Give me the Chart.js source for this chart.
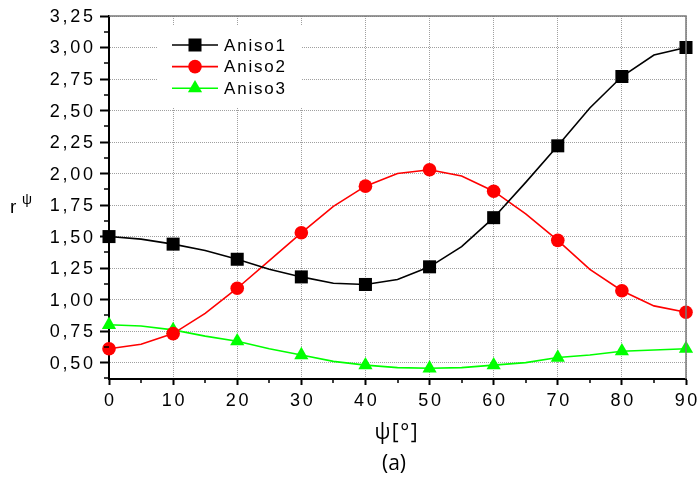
<!DOCTYPE html>
<html>
<head>
<meta charset="utf-8">
<script src="https://cdn.jsdelivr.net/npm/chart.js@4.4.1/dist/chart.umd.min.js"></script>
<style>
  html, body { margin: 0; padding: 0; background: #fff; }
  #wrap { width: 699px; height: 480px; }
</style>
</head>
<body>
<div id="wrap"><canvas id="chart" width="699" height="480"></canvas></div>
<script>
// ─── DATA ───
const psi = [0, 5, 10, 15, 20, 25, 30, 35, 40, 45, 50, 55, 60, 65, 70, 75, 80, 85, 90];
const aniso1 = [1.50, 1.48, 1.44, 1.39, 1.32, 1.24, 1.18, 1.13, 1.12, 1.16, 1.26, 1.42, 1.65, 1.93, 2.22, 2.52, 2.77, 2.94, 3.00];
const aniso2 = [0.61, 0.645, 0.73, 0.89, 1.09, 1.31, 1.53, 1.74, 1.90, 2.00, 2.03, 1.98, 1.86, 1.68, 1.47, 1.24, 1.07, 0.95, 0.90];
const aniso3 = [0.80, 0.79, 0.76, 0.71, 0.67, 0.61, 0.56, 0.51, 0.48, 0.46, 0.455, 0.46, 0.48, 0.50, 0.54, 0.56, 0.59, 0.60, 0.61];
const seriesNames = ['Aniso1', 'Aniso2', 'Aniso3'];
const xTicks = [0, 10, 20, 30, 40, 50, 60, 70, 80, 90];
const yTicks = [0.50, 0.75, 1.00, 1.25, 1.50, 1.75, 2.00, 2.25, 2.50, 2.75, 3.00, 3.25];
const xMinor = [5, 15, 25, 35, 45, 55, 65, 75, 85];
const yMinor = [0.375, 0.625, 0.875, 1.125, 1.375, 1.625, 1.875, 2.125, 2.375, 2.625, 2.875, 3.125];

const SANS = '"Liberation Sans", Arial, sans-serif';

// markers only on the 10° points
const every10 = (r) => psi.map(v => (v % 10 === 0 ? r : 0));

function series(label, values, color, style, r) {
    return {
        label: label,
        data: psi.map((x, i) => ({ x: x, y: values[i] })),
        borderColor: color,
        backgroundColor: color,
        borderWidth: 1.6,
        tension: 0,
        pointStyle: style,
        pointRadius: every10(r),
        pointBorderWidth: 0,
        pointHoverRadius: 0,
        clip: false,
        _legendRadius: r
    };
}

// spaced-out text, anchored left / center / right
function spacedText(ctx, text, x, y, spacing, align) {
    ctx.letterSpacing = '0px';
    const w = ctx.measureText(text).width + spacing * (text.length - 1);
    let x0 = x;
    if (align === 'right') x0 = x - w;
    else if (align === 'center') x0 = x - w / 2;
    ctx.letterSpacing = spacing + 'px';
    ctx.textAlign = 'left';
    ctx.fillText(text, x0, y);
    ctx.letterSpacing = '0px';
}

// ─── EXTRAS: frame, minor ticks, tick labels, legend, axis titles ───
const extras = {
    id: 'extras',
    beforeDatasetsDraw(chart) {
        const ctx = chart.ctx;
        ctx.save();
        ctx.fillStyle = '#fff';
        ctx.fillRect(157, 26, 145, 82);
        ctx.restore();
    },
    afterDraw(chart) {
        const ctx = chart.ctx;
        const a = chart.chartArea;
        const xs = chart.scales.x, ys = chart.scales.y;
        ctx.save();

        // top / right frame
        ctx.strokeStyle = '#7a7a7a';
        ctx.lineWidth = 1.5;
        ctx.beginPath();
        ctx.moveTo(a.left, a.top);
        ctx.lineTo(a.right, a.top);
        ctx.lineTo(a.right, a.bottom);
        ctx.stroke();

        // minor ticks
        ctx.strokeStyle = '#000';
        ctx.lineWidth = 1.5;
        ctx.beginPath();
        xMinor.forEach(v => {
            const px = Math.round(xs.getPixelForValue(v));
            ctx.moveTo(px, a.bottom);
            ctx.lineTo(px, a.bottom + 4);
        });
        yMinor.forEach(v => {
            const py = Math.round(ys.getPixelForValue(v));
            if (py > a.bottom) return;
            ctx.moveTo(a.left, py);
            ctx.lineTo(a.left - 5, py);
        });
        ctx.stroke();

        // tick labels
        ctx.fillStyle = '#000';
        ctx.font = '18px ' + SANS;
        ctx.textBaseline = 'middle';
        yTicks.forEach(v => {
            spacedText(ctx, v.toFixed(2).replace('.', ','), 93, ys.getPixelForValue(v) + 1, 2.7, 'right');
        });
        ctx.textBaseline = 'alphabetic';
        xTicks.forEach(v => {
            spacedText(ctx, String(v), xs.getPixelForValue(v), 406, 2.7, 'center');
        });

        // legend
        ctx.font = '17px ' + SANS;
        ctx.textBaseline = 'middle';
        chart.data.datasets.forEach((ds, i) => {
            const y = 45 + i * 21.6;
            ctx.strokeStyle = ds.borderColor;
            ctx.fillStyle = ds.backgroundColor;
            ctx.lineWidth = 1.6;
            ctx.beginPath();
            ctx.moveTo(172, y);
            ctx.lineTo(218, y);
            ctx.stroke();
            Chart.helpers.drawPoint(ctx, {
                pointStyle: ds.pointStyle, radius: ds._legendRadius, rotation: 0, borderWidth: 0
            }, 195, y);
            ctx.fillStyle = '#000';
            spacedText(ctx, ds.label, 224, y + 1, 1.8, 'left');
        });

        // y axis title r^ψ
        ctx.fillStyle = '#000';
        ctx.textBaseline = 'alphabetic';
        ctx.textAlign = 'left';
        ctx.font = '19px ' + SANS;
        ctx.fillText('r', 10, 213);
        ctx.font = '14px ' + SANS;
        ctx.fillText('ψ', 22, 204);

        // x axis title and panel label
        ctx.font = '21px "Open Sans", "Liberation Sans", sans-serif';
        spacedText(ctx, 'ψ[°]', 396, 439, 1.5, 'center');
        spacedText(ctx, '(a)', 394, 470, 0, 'center');
        ctx.restore();
    }
};

const chart = new Chart(document.getElementById('chart').getContext('2d'), {
    type: 'line',
    data: {
        datasets: [
            series(seriesNames[0], aniso1, '#000000', 'rect', 9.2),
            series(seriesNames[1], aniso2, '#ff0000', 'circle', 6.8),
            series(seriesNames[2], aniso3, '#00ff00', 'triangle', 8.2)
        ]
    },
    options: {
        responsive: false,
        animation: false,
        events: [],
        layout: { padding: { left: 0, top: 16, right: 13, bottom: 0 } },
        plugins: { legend: { display: false }, tooltip: { enabled: false } },
        scales: {
            x: {
                type: 'linear',
                min: 0,
                max: 90,
                afterBuildTicks: s => { s.ticks = xTicks.map(v => ({ value: v })); },
                afterFit: s => { s.height = 101; },
                grid: { color: '#a0a0a0', lineWidth: 1, tickColor: '#000', tickLength: 6, tickWidth: 2 },
                border: { color: '#000', width: 2, dash: [1, 1] },
                ticks: { display: false }
            },
            y: {
                type: 'linear',
                min: 0.37,
                max: 3.25,
                afterBuildTicks: s => { s.ticks = yTicks.map(v => ({ value: v })); },
                afterFit: s => { s.width = 109; },
                grid: { color: '#a0a0a0', lineWidth: 1, tickColor: '#000', tickLength: 9, tickWidth: 2 },
                border: { color: '#000', width: 2, dash: [1, 1] },
                ticks: { display: false }
            }
        }
    },
    plugins: [extras]
});
</script>
</body>
</html>
